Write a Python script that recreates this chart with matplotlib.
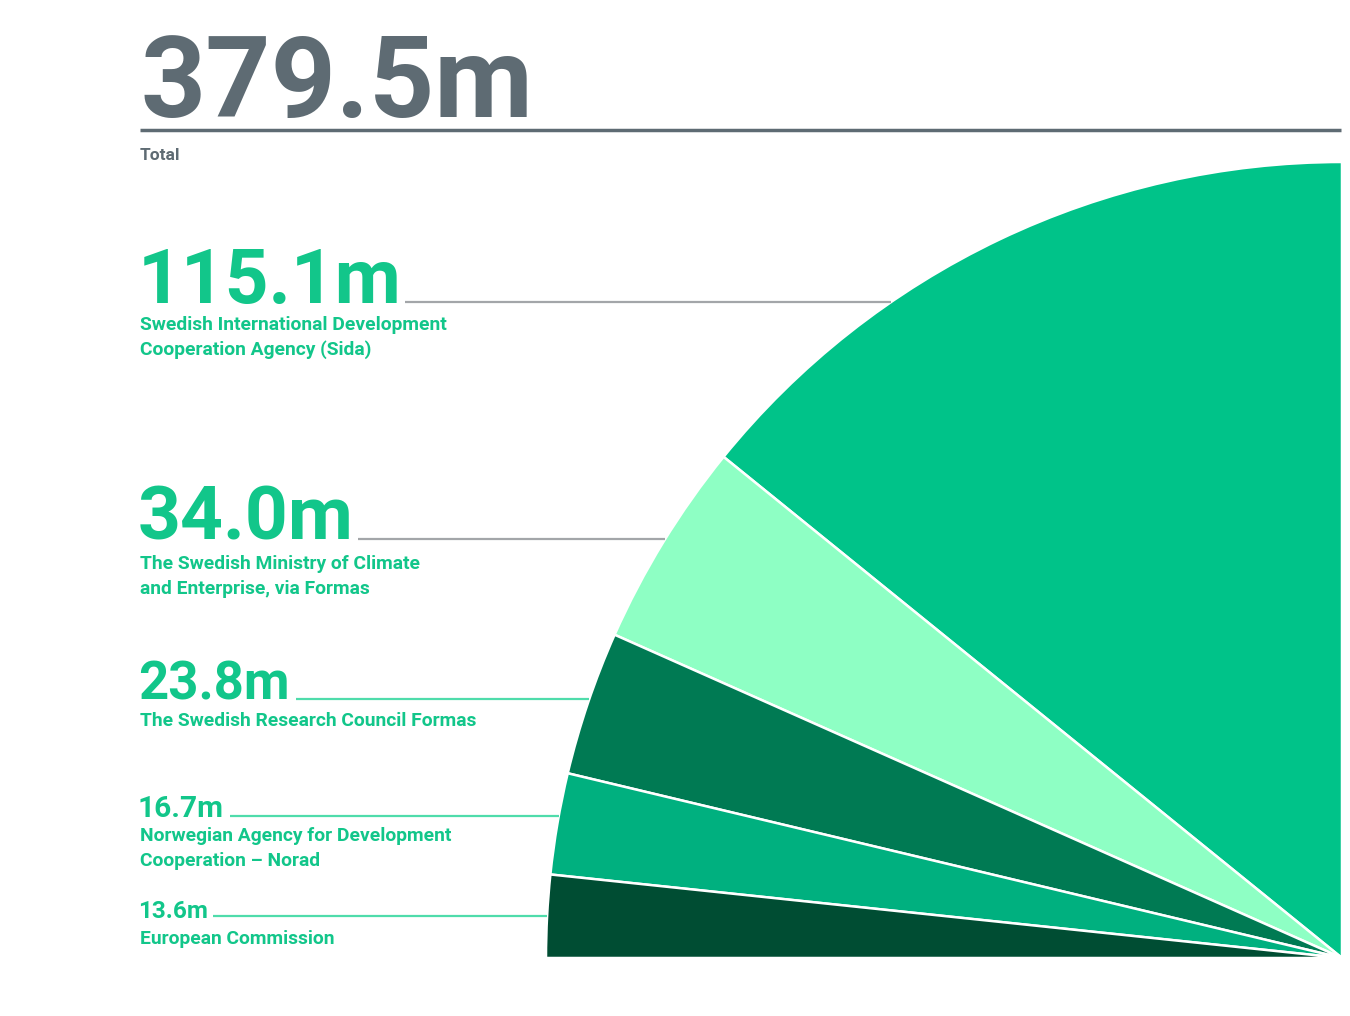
import numpy as np
import matplotlib
matplotlib.use("Agg")
import matplotlib.pyplot as plt

plt.rcParams["font.family"] = ["Roboto", "DejaVu Sans"]

# 数据
total_label = "379.5m"
values = [115.1, 34.0, 23.8, 16.7, 13.6]
value_labels = ["115.1m", "34.0m", "23.8m", "16.7m", "13.6m"]
names = [
    "Swedish International Development\nCooperation Agency (Sida)",
    "The Swedish Ministry of Climate\nand Enterprise, via Formas",
    "The Swedish Research Council Formas",
    "Norwegian Agency for Development\nCooperation – Norad",
    "European Commission",
]
colors = ["#00C389", "#8EFFC4", "#007A53", "#00B07F", "#004D33"]

# 样式（像素坐标）
W, H = 1350, 1016
cx, cy, R = 1342, 958, 796
num_sizes = [55, 54, 38, 21.5, 17.5]
num_base = [303, 540, 700, 817, 918]
line_y = [302, 539, 699, 816, 916]
line_x0 = [405, 358, 296, 230, 213]
line_col = ["#A3A6A9", "#A3A6A9", "#4FDCAB", "#4FDCAB", "#4FDCAB"]
name_base = [330, 569, 726, 841, 944]
gray = "#5E6B73"
green = "#12C68A"

fig = plt.figure(figsize=(13.5, 10.16), dpi=100)
ax = fig.add_axes([0, 0, 1, 1])

def Y(py):
    return H - py

# 四分之一饼图
frac = np.array(values) / sum(values) / 4
ax.pie(frac, startangle=90, counterclock=True, normalize=False,
       center=(cx, Y(cy)), radius=R, colors=colors,
       wedgeprops=dict(edgecolor="white", linewidth=1.8))

# 标题
ax.text(140, Y(117), total_label, fontsize=82, fontweight="bold", color=gray,
        va="baseline", ha="left")
ax.plot([140, 1341], [Y(130), Y(130)], color=gray, lw=2.5, solid_capstyle="butt")
ax.text(140, Y(160), "Total", fontsize=12.5, fontweight="bold", color=gray,
        va="baseline", ha="left")

# 标签与引线
for i in range(len(values)):
    ax.text(138, Y(num_base[i]), value_labels[i], fontsize=num_sizes[i],
            fontweight="bold", color=green, va="baseline", ha="left")
    lines = names[i].split("\n")
    for j, t in enumerate(lines):
        ax.text(140, Y(name_base[i] + 25 * j), t, fontsize=13.9, fontweight="bold",
                color=green, va="baseline", ha="left")
    dy = cy - line_y[i]
    x1 = cx - np.sqrt(R ** 2 - dy ** 2)
    ax.plot([line_x0[i], x1], [Y(line_y[i]), Y(line_y[i])], color=line_col[i],
            lw=1.6, solid_capstyle="butt")

ax.set_xlim(0, W)
ax.set_ylim(0, H)
ax.set_aspect("auto")
ax.axis("off")

fig.savefig("out.png", dpi=100, facecolor="white")
